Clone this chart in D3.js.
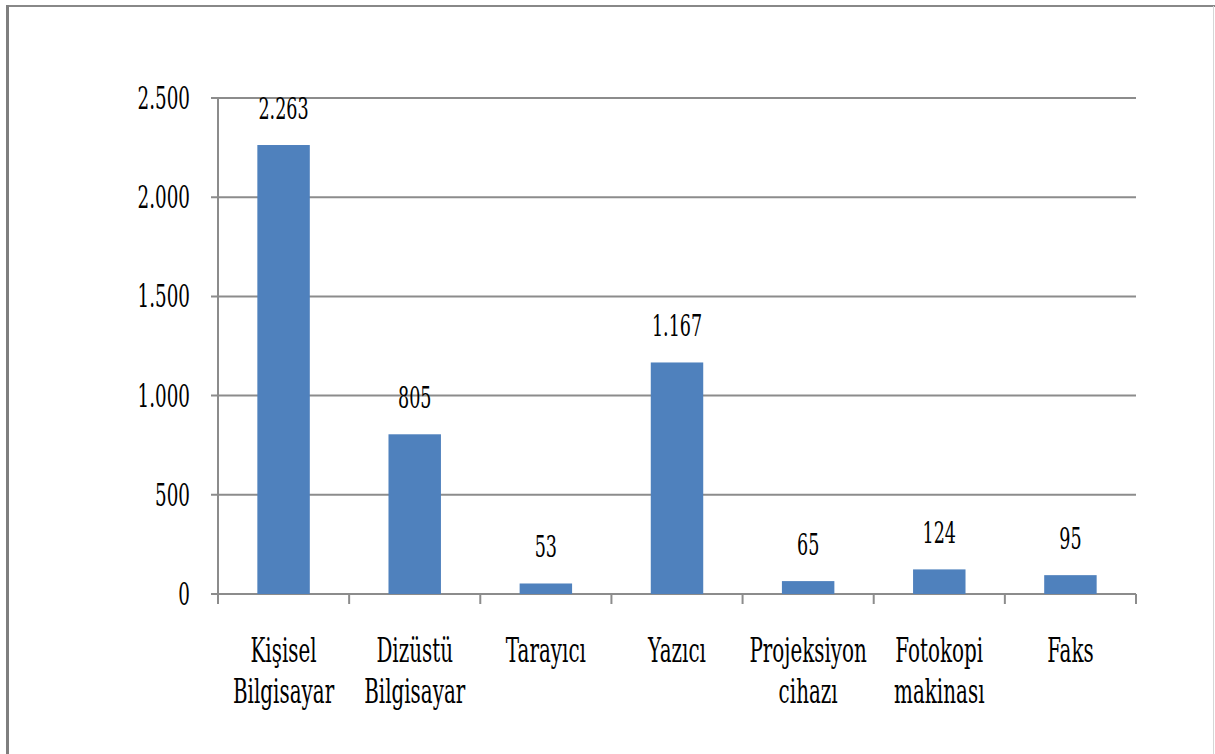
<!DOCTYPE html>
<html><head><meta charset="utf-8">
<script src="https://cdn.jsdelivr.net/npm/d3@7/dist/d3.min.js"></script>
<style>body{margin:0;background:#fff;}svg{display:block;}</style>
</head><body>
<svg id="c" width="1215" height="754"></svg>
<script>
const categories = [["Kişisel","Bilgisayar"],["Dizüstü","Bilgisayar"],["Tarayıcı"],["Yazıcı"],["Projeksiyon","cihazı"],["Fotokopi","makinası"],["Faks"]];
const values = [2263, 805, 53, 1167, 65, 124, 95];
const valueLabels = ["2.263","805","53","1.167","65","124","95"];
const yTicks = [0, 500, 1000, 1500, 2000, 2500];
const yTickLabels = ["0","500","1.000","1.500","2.000","2.500"];

const svg = d3.select("#c");
const L = 218, R = 1136, T = 98, B = 594;
const FONT = "DejaVu Serif, serif";
const SX = 0.78, SY = 1.36;

// frame
svg.append("line").attr("x1",6).attr("x2",1215).attr("y1",6).attr("y2",6).attr("stroke","#888").attr("stroke-width",2);
svg.append("line").attr("x1",7.5).attr("x2",7.5).attr("y1",5).attr("y2",754).attr("stroke","#7f7f7f").attr("stroke-width",3);
svg.append("line").attr("x1",1213.5).attr("x2",1213.5).attr("y1",6).attr("y2",754).attr("stroke","#d6d6d6").attr("stroke-width",1);

const x = d3.scaleBand().domain(d3.range(values.length)).range([L,R]).paddingInner(0.6).paddingOuter(0.3);
const xb = d3.scaleBand().domain(d3.range(values.length)).range([L,R]);
const y = d3.scaleLinear().domain([0,2500]).range([B,T]);

// gridlines
svg.append("g").selectAll("line").data(yTicks).join("line")
  .attr("x1",L-7).attr("x2",R).attr("y1",d=>y(d)).attr("y2",d=>y(d))
  .attr("stroke","#8c8c8c").attr("stroke-width",2);
// y axis line
svg.append("line").attr("x1",L).attr("x2",L).attr("y1",T).attr("y2",B).attr("stroke","#8c8c8c").attr("stroke-width",2);
// x ticks
svg.append("g").selectAll("line").data(d3.range(values.length+1)).join("line")
  .attr("x1",i=>i<values.length?xb(i):R).attr("x2",i=>i<values.length?xb(i):R)
  .attr("y1",B).attr("y2",B+10).attr("stroke","#8c8c8c").attr("stroke-width",2);

// y labels
svg.append("g").selectAll("text").data(yTicks).join("text")
  .attr("transform",d=>`translate(190,${y(d)+11}) scale(${SX},${SY})`)
  .attr("text-anchor","end").style("font-family",FONT).attr("font-size",23.5).attr("fill","#000")
  .text((d,i)=>yTickLabels[i]);

// bars
svg.append("g").selectAll("rect").data(values).join("rect")
  .attr("x",(d,i)=>x(i)).attr("width",x.bandwidth())
  .attr("y",d=>y(d)).attr("height",d=>B-y(d)).attr("fill","#4f81bd");

// value labels
svg.append("g").selectAll("text").data(values).join("text")
  .attr("transform",(d,i)=>`translate(${x(i)+x.bandwidth()/2},${y(d)-26}) scale(${SX},${SY*0.97})`)
  .attr("text-anchor","middle").style("font-family",FONT).attr("font-size",22.5).attr("fill","#000")
  .text((d,i)=>valueLabels[i]);

// category labels
const cg = svg.append("g").selectAll("g").data(categories).join("g");
cg.each(function(lines,i){
  d3.select(this).selectAll("text").data(lines).join("text")
    .attr("transform",(t,j)=>`translate(${xb(i)+xb.bandwidth()/2},${662+j*41}) scale(0.83,${SY})`)
    .attr("text-anchor","middle").style("font-family",FONT).attr("font-size",24).attr("fill","#000")
    .text(t=>t);
});
</script>
</body></html>
